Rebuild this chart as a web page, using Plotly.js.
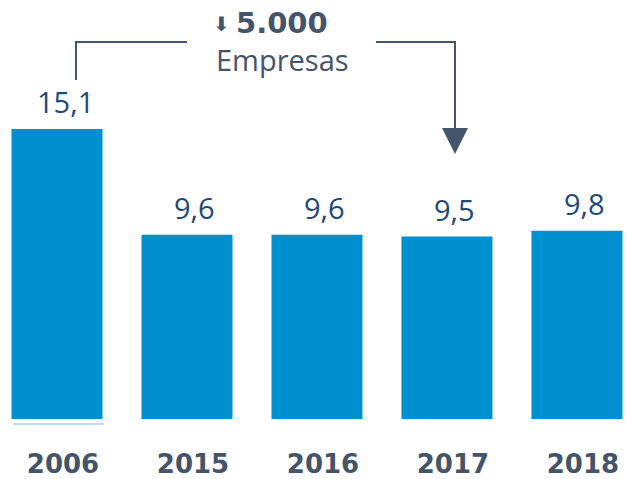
<!DOCTYPE html>
<html>
<head>
<meta charset="utf-8">
<script src="https://cdn.plot.ly/plotly-3.0.1.min.js"></script>
<style>
  html, body { margin: 0; padding: 0; background: #ffffff; }
  #chart { width: 627px; height: 479px; }
</style>
</head>
<body>
<div id="chart"></div>
<script>
// ---- data ----
const years = ["2006", "2015", "2016", "2017", "2018"];
const values = [15.1, 9.6, 9.6, 9.5, 9.8];
const valueLabels = ["15,1", "9,6", "9,6", "9,5", "9,8"];
const changeText = "5.000";
const changeUnit = "Empresas";

// ---- styling ----
const W = 627, H = 479, plotBottom = 419;
const barColor = "#0090d0";
const valueColor = "#1f4b79";
const slate = "#44546a";

// helpers to place decorations in paper space (plot area spans 0..plotBottom px vertically)
const px = v => v / W;
const py = v => (plotBottom - v) / plotBottom;

const trace = {
  type: "bar",
  x: years,
  y: values,
  marker: { color: barColor, line: { width: 0 } },
  hoverinfo: "skip"
};

// value labels: category index i on the category axis
const annotations = years.map((yr, i) => ({
  x: i, y: values[i], xref: "x", yref: "y",
  text: valueLabels[i],
  showarrow: false,
  xanchor: "center", yanchor: "bottom",
  xshift: 8, yshift: 6,
  font: { family: "Open Sans", size: 29, color: valueColor }
}));

annotations.push({
  x: px(282), y: py(23), xref: "paper", yref: "paper",
  text: "<b>" + changeText + "</b>",
  showarrow: false, xanchor: "center", yanchor: "middle",
  font: { family: "DejaVu Sans", size: 29, color: slate }
});
annotations.push({
  x: px(221), y: py(24), xref: "paper", yref: "paper",
  text: "⬇",
  showarrow: false, xanchor: "center", yanchor: "middle",
  font: { family: "DejaVu Sans", size: 20, color: slate }
});
annotations.push({
  x: px(282), y: py(60), xref: "paper", yref: "paper",
  text: changeUnit,
  showarrow: false, xanchor: "center", yanchor: "middle",
  font: { family: "Open Sans", size: 29, color: slate }
});

const P = (x, y) => px(x).toFixed(5) + "," + py(y).toFixed(5);
const shapes = [
  { type: "path", xref: "paper", yref: "paper",
    path: "M" + P(76, 80) + " L" + P(76, 42) + " L" + P(187, 42),
    line: { color: slate, width: 2 } },
  { type: "path", xref: "paper", yref: "paper",
    path: "M" + P(376, 42) + " L" + P(455, 42) + " L" + P(455, 130),
    line: { color: slate, width: 2 } },
  { type: "path", xref: "paper", yref: "paper",
    path: "M" + P(442, 128) + " L" + P(468, 128) + " L" + P(455, 154) + " Z",
    fillcolor: slate, line: { color: slate, width: 0 } },
  { type: "line", xref: "paper", yref: "paper",
    x0: px(13), x1: px(104), y0: py(424), y1: py(424),
    line: { color: "#9fd4ef", width: 1.5 } }
];

const layout = {
  width: W, height: H,
  margin: { l: 0, r: 0, t: 0, b: H - plotBottom, pad: 0 },
  paper_bgcolor: "#ffffff",
  plot_bgcolor: "#ffffff",
  showlegend: false,
  bargap: 0.3,
  xaxis: {
    type: "category",
    range: [-0.4385, 4.385],
    showgrid: false, zeroline: false, showline: false,
    ticks: "",
    ticklabelstandoff: 27,
    ticklabelshift: 6,
    tickfont: { family: "DejaVu Sans", size: 26, color: slate, weight: "bold" },
    fixedrange: true
  },
  yaxis: {
    range: [0, plotBottom / 19.2],
    visible: false,
    showgrid: false, zeroline: false,
    fixedrange: true
  },
  annotations: annotations,
  shapes: shapes
};

Plotly.newPlot("chart", [trace], layout, { displayModeBar: false, staticPlot: true });
</script>
</body>
</html>
